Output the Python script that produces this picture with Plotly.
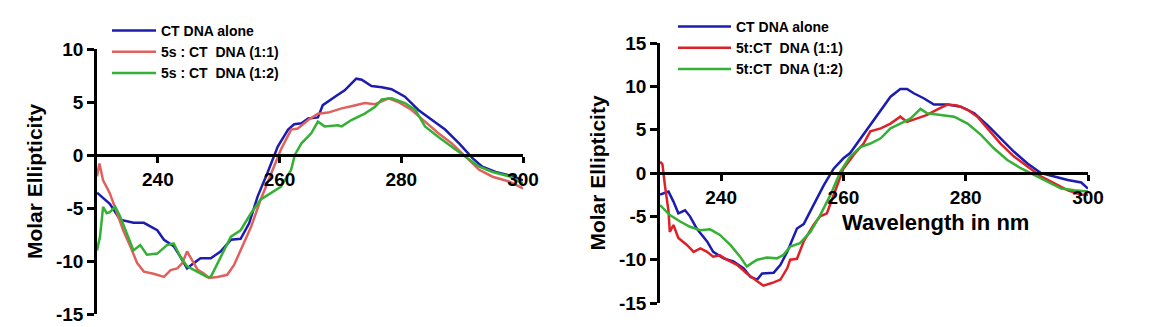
import plotly.graph_objects as go

W, H = 1151, 327

# ---------------- data: left panel (5s) ----------------
wl_5s_alone = [230, 232.1, 233.8, 236, 237.7, 239.9, 241, 242.6, 243.7, 244.8, 245.9, 247, 248.7, 250.3, 252,
               253.6, 255, 256.4, 258, 259.7, 261.4, 262.4, 263.6, 264.7, 266.3, 267.1, 269.1, 270.7, 272.6,
               273.5, 275.1, 276.8, 278.4, 280.6, 282.8, 285, 287.2, 289.5, 291.7, 293.3, 295.5, 298.3, 300]
ce_5s_alone = [-3.55, -4.6, -6.1, -6.4, -6.4, -7.1, -8.0, -8.6, -9.6, -10.7, -10.2, -9.75, -9.75, -9.1, -8.0,
               -7.9, -6.45, -3.9, -1.7, 0.8, 2.4, 2.9, 3.0, 3.45, 3.55, 4.7, 5.5, 6.1, 7.2,
               7.1, 6.5, 6.4, 6.2, 5.5, 4.25, 3.3, 2.4, 1.1, -0.3, -1.1, -1.6, -2.0, -2.4]

wl_5s_11 = [230, 230.4, 231, 232.1, 233.3, 234.3, 235.5, 236.6, 237.7, 239.3, 241, 242.1, 243.2, 244, 244.8,
            245.6, 246.5, 247.6, 248.4, 249.8, 251.4, 252.5, 253.6, 255.3, 256.9, 258.6, 260.2, 261.9, 263,
            264.7, 266.3, 268, 270.2, 271.8, 274, 275.7, 277.9, 279.5, 281.7, 283.9, 286.1, 288.3, 290.5,
            292.8, 295, 297.7, 300]
ce_5s_11 = [-2.0, -0.8, -2.4, -3.6, -5.5, -7.1, -8.65, -10.2, -11.0, -11.2, -11.5, -10.85, -10.7, -10.2, -9.1,
            -9.9, -10.8, -11.2, -11.6, -11.5, -11.3, -10.4, -9.0, -6.8, -4.2, -1.7, 0.5, 2.4, 2.5,
            3.3, 3.9, 4.0, 4.4, 4.6, 4.9, 4.8, 5.35, 5.0, 4.25, 3.15, 2.05, 1.1, -0.15,
            -1.4, -2.05, -2.5, -3.15]

wl_5s_12 = [230, 230.5, 231, 231.6, 232.1, 233, 233.8, 234.9, 236, 237.1, 238.2, 239.9, 241.5, 242.6, 243.7,
            244.8, 246.5, 248.1, 248.7, 249.8, 250.9, 252, 253.6, 255.3, 256.9, 258.6, 260.2, 261.9, 262.5,
            263.6, 265.2, 266.3, 267.4, 269.6, 270.2, 271.8, 274, 275.7, 276.8, 278.4, 280.6, 282.3, 283.9,
            286.1, 288.3, 290.5, 292.8, 295, 297.7, 300]
ce_5s_12 = [-9.0, -7.7, -4.9, -5.5, -5.4, -4.9, -5.8, -7.4, -9.0, -8.5, -9.4, -9.3, -8.5, -8.35, -9.6,
            -10.5, -11.0, -11.5, -11.5, -10.2, -9.0, -7.7, -7.1, -5.5, -4.2, -3.6, -3.0, -1.4, 0.0,
            1.1, 2.05, 3.15, 2.7, 2.8, 2.7, 3.3, 3.9, 4.55, 5.25, 5.35, 4.9, 4.25, 2.7,
            1.7, 0.8, -0.1, -1.1, -1.6, -2.0, -2.7]

# ---------------- data: right panel (5t) ----------------
wl_5t_alone = [230, 231.4, 232.2, 233, 234.1, 234.9, 236, 237.7, 238.7, 240.4, 242, 243.7, 244.8, 245.9, 246.7,
               248.6, 249.7, 250.8, 252.4, 253.5, 255.1, 256.8, 258.4, 260, 261.1, 262.8, 264.4, 266.1, 267.7,
               269.3, 270.4, 271.5, 273.2, 274.8, 277, 279.2, 281.4, 283.6, 285.7, 287.9, 290.1, 292.3, 294.5,
               296.7, 298.9, 300]
ce_5t_alone = [-2.5, -2.15, -3.3, -4.65, -4.3, -5.0, -6.4, -7.9, -9.1, -9.85, -10.2, -11.0, -12.0, -12.3, -11.6,
               -11.5, -10.6, -9.1, -6.4, -5.9, -3.7, -1.4, 0.5, 1.7, 2.3, 4.0, 5.5, 7.3, 8.8,
               9.7, 9.7, 9.2, 8.6, 7.9, 7.9, 7.65, 6.9, 5.5, 4.0, 2.45, 1.1, 0.0, -0.4,
               -0.8, -1.1, -1.8]

wl_5t_11 = [230, 230.4, 230.8, 231.4, 231.6, 232.2, 233, 234.4, 235.5, 236.6, 237.7, 238.7, 239.8, 240.9, 242.6,
            244.2, 245.9, 246.9, 248.3, 249.7, 250.8, 251.3, 252.4, 253.5, 255.1, 256.2, 257.3, 258.4, 260,
            261.7, 263.3, 264.4, 266.1, 267.7, 269.3, 270.4, 272, 273.7, 275.3, 277, 278.6, 280.3, 281.9,
            283.6, 285.7, 287.9, 290.1, 292.3, 294.5, 296.7, 298.9, 300]
ce_5t_11 = [1.3, 1.0, -1.4, -4.45, -6.8, -6.0, -7.5, -8.3, -9.1, -8.7, -9.1, -9.65, -9.5, -10.0, -10.6,
            -11.6, -12.5, -13.0, -12.7, -12.3, -11.0, -10.0, -9.9, -7.9, -6.0, -5.0, -4.65, -2.5, 0.5,
            2.1, 3.4, 4.8, 5.15, 5.7, 6.5, 5.9, 6.3, 6.7, 7.3, 7.9, 7.8, 7.3, 6.5,
            5.15, 3.4, 1.9, 0.75, -0.4, -1.2, -2.0, -2.5, -2.5]

wl_5t_12 = [230, 231.6, 233.3, 234.9, 236.6, 238.2, 239.8, 241.5, 243.1, 244.2, 245, 245.9, 247.5, 249.1, 250.2,
            251.3, 252.9, 254.6, 256.2, 257.9, 259.5, 261.1, 262.8, 264.4, 266.1, 267.7, 269.3, 271, 272.6,
            273.7, 275.9, 278.1, 280.3, 282.5, 284.6, 286.8, 289, 291.2, 293.4, 295.6, 297.8, 300]
ce_5t_12 = [-3.7, -4.85, -5.6, -6.2, -6.6, -6.5, -7.15, -8.3, -9.65, -10.8, -10.4, -10.0, -9.75, -9.85, -9.45,
            -8.5, -8.1, -6.8, -4.85, -2.5, 0.15, 1.9, 3.0, 3.4, 4.0, 5.15, 5.7, 6.3, 7.4,
            6.9, 6.7, 6.5, 5.7, 4.4, 2.85, 1.5, 0.55, -0.25, -1.0, -1.8, -2.0, -2.15]

names_5s = ["CT DNA alone", "5s : CT  DNA (1:1)", "5s : CT  DNA (1:2)"]
names_5t = ["CT DNA alone", "5t:CT  DNA (1:1)", "5t:CT  DNA (1:2)"]

x_range = [230, 300]
x_ticks = [240, 260, 280, 300]
y_range_5s = [-15, 10]
y_ticks_5s = [-15, -10, -5, 0, 5, 10]
y_range_5t = [-15, 15]
y_ticks_5t = [-15, -10, -5, 0, 5, 10, 15]

y_title = "Molar Ellipticity"
x_title = "Wavelength in nm"

# ---------------- styling ----------------
FONT = "Liberation Sans, Arial, sans-serif"
BLUE = "#1c1cb0"
RED_5s = "#e0605e"
RED_5t = "#dc2228"
GREEN = "#34b034"

fig = go.Figure()


def add(x, y, name, color, xa, ya, leg):
    fig.add_trace(go.Scatter(x=x, y=y, mode="lines", name=name,
                             line=dict(color=color, width=2.5),
                             xaxis=xa, yaxis=ya, legend=leg))


add(wl_5s_alone, ce_5s_alone, names_5s[0], BLUE, "x", "y", "legend")
add(wl_5s_11, ce_5s_11, names_5s[1], RED_5s, "x", "y", "legend")
add(wl_5s_12, ce_5s_12, names_5s[2], GREEN, "x", "y", "legend")
add(wl_5t_alone, ce_5t_alone, names_5t[0], BLUE, "x2", "y2", "legend2")
add(wl_5t_11, ce_5t_11, names_5t[1], RED_5t, "x2", "y2", "legend2")
add(wl_5t_12, ce_5t_12, names_5t[2], GREEN, "x2", "y2", "legend2")

dom_x1 = [97 / W, 523 / W]
dom_y1 = [1 - 314 / H, 1 - 49 / H]
dom_x2 = [660 / W, 1088 / W]
dom_y2 = [1 - 303 / H, 1 - 43 / H]


def zero_pos(dom, rng):
    return dom[0] + (0 - rng[0]) / (rng[1] - rng[0]) * (dom[1] - dom[0])


tickfont = dict(family=FONT, size=19, color="black", weight="bold")
titlefont = dict(family=FONT, size=21, color="black", weight="bold")
legfont = dict(family=FONT, size=14, color="black", weight="bold")

common_x = dict(range=x_range, tickvals=x_ticks, ticktext=[str(v) for v in x_ticks],
                ticks="outside", ticklen=6, tickwidth=2.5, tickcolor="black",
                showline=True, linewidth=2.5, linecolor="black",
                showgrid=False, zeroline=False, anchor="free", tickfont=tickfont,
                automargin=False)
common_y = dict(ticks="outside", ticklen=7, tickwidth=2.5, tickcolor="black",
                showline=True, linewidth=2.5, linecolor="black",
                showgrid=False, zeroline=False, tickfont=tickfont, automargin=False)

fig.update_layout(
    width=W, height=H,
    margin=dict(l=0, r=0, t=0, b=0),
    paper_bgcolor="white", plot_bgcolor="white",
    xaxis=dict(domain=dom_x1, position=zero_pos(dom_y1, y_range_5s), **common_x),
    yaxis=dict(domain=dom_y1, range=y_range_5s, tickvals=y_ticks_5s,
               ticktext=[str(v) for v in y_ticks_5s], anchor="x",
               title=dict(text=y_title, font=titlefont, standoff=8), **common_y),
    xaxis2=dict(domain=dom_x2, position=zero_pos(dom_y2, y_range_5t), **common_x),
    yaxis2=dict(domain=dom_y2, range=y_range_5t, tickvals=y_ticks_5t,
                ticktext=[str(v) for v in y_ticks_5t], anchor="x2",
                title=dict(text=y_title, font=titlefont, standoff=8), **common_y),
    legend=dict(x=107 / W, y=1 - 15 / H, xanchor="left", yanchor="top",
                bgcolor="rgba(0,0,0,0)", itemwidth=44,
                font=legfont),
    legend2=dict(x=673 / W, y=1 - 11 / H, xanchor="left", yanchor="top",
                 bgcolor="rgba(0,0,0,0)", itemwidth=53,
                 font=legfont),
    annotations=[dict(text=x_title, xref="paper", yref="paper", x=935 / W, y=1 - 222 / H,
                      xanchor="center", yanchor="middle", showarrow=False,
                      font=dict(family=FONT, size=22, color="black", weight="bold"))],
)

fig.write_html("out.html")
